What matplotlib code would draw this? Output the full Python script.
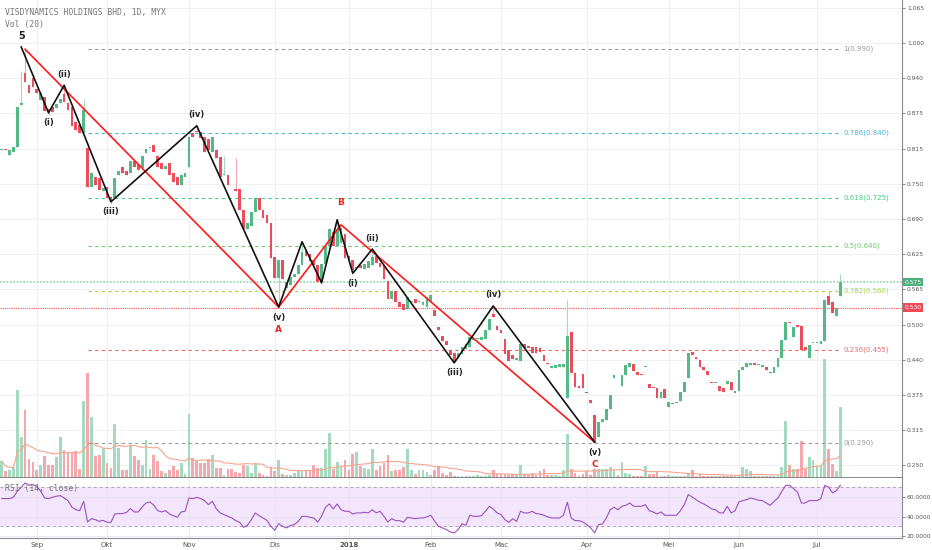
import numpy as np
import pandas as pd
import matplotlib
matplotlib.use('Agg')
import matplotlib.pyplot as plt
from matplotlib import transforms

title = 'VISDYNAMICS HOLDINGS BHD, 1D, MYX'

# daily candles
opens = [0.810, 0.812, 0.801, 0.806, 0.815, 0.890, 0.947, 0.925, 0.938, 0.918,
         0.899, 0.905, 0.882, 0.886, 0.884, 0.893, 0.910, 0.893, 0.886, 0.860,
         0.854, 0.840, 0.813, 0.745, 0.762, 0.760, 0.738, 0.744, 0.727, 0.725,
         0.765, 0.780, 0.772, 0.770, 0.790, 0.783, 0.778, 0.805, 0.813, 0.818,
         0.800, 0.787, 0.776, 0.787, 0.770, 0.762, 0.748, 0.762, 0.780, 0.840,
         0.843, 0.842, 0.833, 0.830, 0.806, 0.810, 0.798, 0.765, 0.766, 0.741,
         0.740, 0.740, 0.703, 0.670, 0.675, 0.700, 0.725, 0.703, 0.695, 0.680,
         0.620, 0.583, 0.615, 0.565, 0.570, 0.585, 0.590, 0.605, 0.630, 0.625,
         0.615, 0.606, 0.577, 0.607, 0.640, 0.665, 0.640, 0.645, 0.660, 0.622,
         0.615, 0.600, 0.606, 0.598, 0.600, 0.605, 0.622, 0.610, 0.605, 0.577,
         0.545, 0.560, 0.540, 0.537, 0.527, 0.540, 0.545, 0.540, 0.535, 0.532,
         0.540, 0.525, 0.495, 0.480, 0.470, 0.455, 0.450, 0.440, 0.448, 0.457,
         0.460, 0.472, 0.475, 0.472, 0.475, 0.490, 0.518, 0.497, 0.490, 0.475,
         0.455, 0.445, 0.437, 0.435, 0.465, 0.462, 0.460, 0.460, 0.458, 0.445,
         0.431, 0.423, 0.422, 0.425, 0.425, 0.370, 0.487, 0.414, 0.390, 0.412,
         0.379, 0.366, 0.340, 0.300, 0.327, 0.330, 0.350, 0.405, 0.391, 0.390,
         0.410, 0.425, 0.430, 0.416, 0.411, 0.424, 0.395, 0.388, 0.387, 0.370,
         0.385, 0.354, 0.358, 0.360, 0.365, 0.380, 0.405, 0.452, 0.443, 0.437,
         0.425, 0.418, 0.397, 0.396, 0.390, 0.388, 0.395, 0.398, 0.378, 0.382,
         0.420, 0.425, 0.428, 0.432, 0.428, 0.425, 0.425, 0.414, 0.414, 0.425,
         0.440, 0.472, 0.505, 0.478, 0.500, 0.498, 0.460, 0.440, 0.467, 0.468,
         0.465, 0.470, 0.550, 0.540, 0.515, 0.550]
closes = [0.812, 0.810, 0.810, 0.815, 0.886, 0.893, 0.931, 0.911, 0.922, 0.912,
          0.912, 0.880, 0.878, 0.877, 0.892, 0.900, 0.895, 0.881, 0.853, 0.846,
          0.840, 0.881, 0.744, 0.770, 0.748, 0.739, 0.742, 0.725, 0.722, 0.760,
          0.772, 0.769, 0.765, 0.790, 0.780, 0.775, 0.800, 0.812, 0.816, 0.806,
          0.780, 0.776, 0.782, 0.766, 0.753, 0.748, 0.765, 0.770, 0.833, 0.833,
          0.842, 0.831, 0.806, 0.810, 0.833, 0.796, 0.762, 0.766, 0.748, 0.740,
          0.737, 0.703, 0.670, 0.680, 0.700, 0.725, 0.703, 0.690, 0.680, 0.618,
          0.583, 0.615, 0.580, 0.575, 0.585, 0.590, 0.605, 0.628, 0.622, 0.612,
          0.605, 0.575, 0.607, 0.640, 0.670, 0.640, 0.670, 0.672, 0.618, 0.615,
          0.597, 0.601, 0.600, 0.607, 0.612, 0.620, 0.610, 0.603, 0.580, 0.545,
          0.560, 0.540, 0.532, 0.525, 0.548, 0.541, 0.538, 0.541, 0.540, 0.548,
          0.552, 0.515, 0.490, 0.470, 0.463, 0.445, 0.435, 0.450, 0.460, 0.465,
          0.478, 0.476, 0.476, 0.477, 0.490, 0.510, 0.514, 0.490, 0.485, 0.448,
          0.435, 0.438, 0.440, 0.465, 0.458, 0.458, 0.450, 0.450, 0.452, 0.435,
          0.430, 0.427, 0.428, 0.430, 0.430, 0.480, 0.414, 0.389, 0.388, 0.388,
          0.378, 0.360, 0.291, 0.327, 0.332, 0.350, 0.375, 0.410, 0.390, 0.410,
          0.428, 0.432, 0.418, 0.410, 0.410, 0.425, 0.388, 0.387, 0.370, 0.380,
          0.370, 0.362, 0.360, 0.362, 0.380, 0.398, 0.450, 0.445, 0.438, 0.425,
          0.420, 0.410, 0.396, 0.397, 0.382, 0.380, 0.400, 0.383, 0.382, 0.420,
          0.425, 0.432, 0.432, 0.428, 0.429, 0.428, 0.420, 0.415, 0.425, 0.440,
          0.472, 0.504, 0.502, 0.495, 0.495, 0.455, 0.455, 0.463, 0.468, 0.469,
          0.470, 0.543, 0.534, 0.521, 0.530, 0.575]
volumes = [17, 7, 8, 10, 88, 41, 68, 19, 16, 8, 13, 22, 13, 13, 21, 41, 28, 26, 26, 27,
           9, 77, 105, 61, 22, 23, 30, 15, 10, 54, 30, 8, 8, 32, 22, 18, 13, 38, 9, 23,
           17, 7, 5, 8, 12, 8, 15, 4, 64, 20, 17, 15, 15, 19, 23, 10, 10, 3, 9, 9,
           6, 5, 13, 12, 5, 15, 5, 3, 2, 11, 7, 18, 4, 3, 3, 5, 8, 8, 8, 8,
           13, 10, 10, 29, 45, 9, 16, 12, 18, 8, 24, 26, 12, 10, 9, 29, 8, 12, 15, 23,
           7, 8, 8, 11, 29, 8, 4, 8, 8, 6, 3, 8, 12, 5, 3, 6, 2, 2, 2, 2,
           2, 2, 3, 2, 2, 3, 8, 4, 4, 4, 3, 4, 4, 13, 3, 3, 5, 3, 7, 9,
           3, 3, 3, 2, 8, 44, 9, 5, 2, 4, 7, 3, 9, 9, 9, 9, 11, 9, 3, 16,
           5, 4, 2, 2, 2, 12, 4, 4, 7, 2, 2, 3, 2, 2, 2, 2, 5, 8, 2, 4,
           2, 2, 2, 2, 2, 2, 2, 2, 2, 2, 11, 9, 7, 2, 2, 2, 2, 2, 2, 2,
           11, 57, 13, 9, 9, 37, 9, 21, 18, 12, 13, 120, 29, 14, 7, 71]
rsi = [58.4, 58.4, 58.4, 59.7, 65.9, 70.0, 74.4, 72.0, 72.7, 71.0,
       66.0, 59.0, 58.4, 59.7, 60.8, 61.5, 59.0, 56.3, 49.5, 47.0,
       46.0, 55.6, 34.4, 37.8, 36.8, 35.1, 36.1, 34.1, 34.1, 42.6,
       43.0, 43.0, 44.3, 48.1, 44.7, 44.7, 49.8, 53.9, 55.0, 51.5,
       46.0, 44.7, 46.0, 42.6, 40.9, 39.2, 44.7, 45.4, 59.0, 58.4,
       59.7, 58.4, 56.3, 52.2, 55.6, 48.1, 43.7, 42.0, 40.2, 38.5,
       35.8, 34.1, 29.0, 31.0, 36.8, 43.7, 40.9, 38.5, 36.1, 30.0,
       25.9, 32.7, 30.0, 28.3, 30.7, 31.7, 35.0, 40.2, 40.2, 39.2,
       38.5, 34.4, 40.2, 49.5, 52.9, 47.8, 52.9, 47.0, 45.4, 45.4,
       42.6, 43.7, 43.7, 44.3, 43.7, 47.0, 43.7, 45.4, 40.2, 34.4,
       37.8, 35.8, 35.8, 34.1, 39.2, 38.5, 37.8, 38.5, 38.5, 39.6,
       41.3, 35.1, 30.0, 28.3, 26.6, 24.2, 23.2, 26.6, 32.7, 31.0,
       41.3, 40.2, 40.2, 40.9, 45.4, 50.5, 47.8, 43.7, 42.0, 36.8,
       34.1, 37.8, 35.1, 45.4, 43.7, 43.7, 45.4, 43.0, 42.6, 41.3,
       39.6, 38.5, 38.5, 38.5, 41.3, 54.6, 38.5, 35.8, 35.8, 34.4,
       31.7, 28.3, 23.2, 31.7, 32.4, 38.5, 47.0, 49.5, 47.0, 50.5,
       51.5, 53.9, 50.5, 50.5, 50.5, 52.2, 46.0, 44.7, 42.6, 44.7,
       41.3, 41.3, 41.3, 41.3, 46.0, 52.2, 62.5, 60.1, 57.3, 54.6,
       52.9, 50.5, 47.8, 47.0, 43.7, 43.7, 50.5, 43.7, 46.0, 55.0,
       56.3, 57.3, 59.0, 58.0, 56.7, 56.3, 53.9, 51.5, 55.6, 59.0,
       65.9, 72.0, 72.0, 68.6, 65.2, 53.9, 53.9, 56.3, 56.3, 56.3,
       58.4, 72.0, 70.0, 64.2, 66.6, 72.0]
wick_high = {5: 0.950, 6: 0.990, 16: 0.925, 21: 0.900, 50: 0.852, 57: 0.800,
             60: 0.795, 77: 0.645, 86: 0.682, 95: 0.636, 126: 0.532, 145: 0.543,
             212: 0.560, 215: 0.590}
wick_low = {12: 0.872, 28: 0.714, 71: 0.531, 90: 0.593, 116: 0.432, 152: 0.290}

month_idx = [9, 27, 48, 70, 89, 110, 128, 150, 171, 189, 209]
month_labels = ['Sep', 'Okt', 'Nov', 'Dis', '2018', 'Feb', 'Mac', 'Apr', 'Mei', 'Jun', 'Jul']

price_ticks = [0.25, 0.3125, 0.375, 0.4375, 0.5, 0.5625, 0.625, 0.6875, 0.75,
               0.8125, 0.875, 0.9375, 1.0, 1.0625]
price_labels = ['0.250', '0.315', '0.375', '0.440', '0.500', '0.565', '0.625',
                '0.690', '0.750', '0.815', '0.875', '0.940', '1.000', '1.065']

fib_ratio = ['1', '0.786', '0.618', '0.5', '0.382', '0.236', '0']
fib_price = [0.990, 0.840, 0.725, 0.640, 0.560, 0.455, 0.290]
fib_colors = ['#9a9a9a', '#4db6d6', '#4cc98a', '#6cc96c', '#a6d44a', '#f06868', '#9a9a9a']
fib_start, fib_end = 22, 215

# elliott wave pivots
black_idx = [5, 12, 16, 28, 50, 71, 77, 82, 86, 90, 95, 116, 126, 152]
black_px = [0.993, 0.876, 0.925, 0.718, 0.853, 0.531, 0.647, 0.574, 0.686,
            0.591, 0.634, 0.432, 0.533, 0.291]
black_lbl = ['5', '(i)', '(ii)', '(iii)', '(iv)', '(v)', '', '', '',
             '(i)', '(ii)', '(iii)', '(iv)', '(v)']
red_idx = [6, 71, 87, 152]
red_px = [0.989, 0.531, 0.677, 0.291]
red_lbl = ['', 'A', 'B', 'C']

last_price = 0.575
mark_price = 0.530

green, red = '#53b987', '#eb4d5c'
green_l, red_l = '#a6dabf', '#f5a7ae'

n = len(closes)
x = np.arange(n)
o = np.array(opens)
c = np.array(closes)
up = c >= o
hi = np.maximum(o, c)
lo = np.minimum(o, c)
for k, v in wick_high.items():
    hi[k] = v
for k, v in wick_low.items():
    lo[k] = v

fig = plt.figure(figsize=(9.32, 5.5), dpi=100)
ax = fig.add_axes([0, 72 / 550, 902 / 932, 478 / 550])
ax_rsi = fig.add_axes([0, 12 / 550, 902 / 932, 60 / 550])

xlim = (-0.44, 230.8)
ax.set_xlim(*xlim)
ax.set_ylim(0.2274, 1.0764)

# grid
ax.set_yticks(price_ticks)
ax.set_yticklabels(price_labels)
ax.set_xticks(month_idx)
ax.grid(color='#edf1f5', lw=0.8, zorder=0)
ax.set_axisbelow(True)

# volume, bottom of the price panel
vtr = transforms.blended_transform_factory(ax.transData, ax.transAxes)
vol = np.array(volumes, dtype=float)
vtop = vol.max() * 4.0
ax.bar(x, vol / vtop, width=0.7, bottom=0, color=np.where(up, green_l, red_l),
       transform=vtr, zorder=1)
vma = pd.Series(vol).rolling(20, min_periods=1).mean().values
ax.plot(x, vma / vtop, color='#f7a58c', lw=0.8, transform=vtr, zorder=1)

# fib levels
for r, p, col in zip(fib_ratio, fib_price, fib_colors):
    ax.plot([fib_start, fib_end], [p, p], color=col, lw=0.8, ls=(0, (3, 3)), zorder=2)
    ax.text(fib_end + 0.8, p, f'{r}({p:.3f})', color=col, fontsize=5, va='center', ha='left')

ax.axhline(last_price, color='#8fd3ac', lw=1.2, ls=(0, (1, 1)), zorder=2)
ax.axhline(mark_price, color='#ef5350', lw=0.8, ls=(0, (1, 1)), zorder=2)

# candles
ax.vlines(x, lo, hi, color=np.where(up, green_l, red_l), lw=0.8, zorder=3)
body = np.maximum(np.abs(c - o), 0.0015)
ax.bar(x, body, bottom=np.minimum(o, c), width=0.7,
       color=np.where(up, green, red), zorder=4)

# waves
ax.plot(red_idx, red_px, color='#ff1a1a', lw=1.2, zorder=5)
ax.plot(black_idx, black_px, color='#111111', lw=1.2, zorder=6)
for i, (xi, p, t) in enumerate(zip(black_idx, black_px, black_lbl)):
    if not t:
        continue
    peak = i == 0 or (i > 0 and p > black_px[i - 1])
    dy = 11 if peak else -10
    ax.annotate(t, (xi, p), xytext=(0, dy), textcoords='offset pixels', ha='center',
                va='center', fontsize=6 if t != '5' else 7, fontweight='bold',
                color='#222222', zorder=7)
for i, (xi, p, t) in enumerate(zip(red_idx, red_px, red_lbl)):
    if not t:
        continue
    peak = p > red_px[i - 1]
    dy = 22 if peak else -22
    ax.annotate(t, (xi, p), xytext=(-1 if peak else 0, dy), textcoords='offset pixels',
                ha='center', va='center', fontsize=6.5, fontweight='bold',
                color='#ee2222', zorder=7)

# price scale
ax.yaxis.tick_right()
ax.tick_params(axis='y', labelsize=4.3, colors='#555555', length=2, pad=1.5, width=0.5)
ax.tick_params(axis='x', bottom=False, labelbottom=False)
for s in ['top', 'left']:
    ax.spines[s].set_visible(False)
ax.spines['right'].set_color('#8a8a8a')
ax.spines['bottom'].set_color('#777777')
ax.spines['bottom'].set_linewidth(1.2)

ytr = transforms.blended_transform_factory(ax.transAxes, ax.transData)
ax.text(1.0025, last_price, f'{last_price:.3f}', transform=ytr, fontsize=4.3, color='white',
        va='center', ha='left', clip_on=False, zorder=10,
        bbox=dict(fc='#4caf7d', ec='none', pad=1.2))
ax.text(1.0025, mark_price, f'{mark_price:.3f}', transform=ytr, fontsize=4.3, color='white',
        va='center', ha='left', clip_on=False, zorder=10,
        bbox=dict(fc='#ef4a55', ec='none', pad=1.2))

fig.text(5 / 932, 1 - 12 / 550, title, family='DejaVu Sans Mono', fontsize=5.8,
         color='#777777', va='center')
fig.text(5 / 932, 1 - 24 / 550, 'Vol (20)', family='DejaVu Sans Mono', fontsize=5.8,
         color='#777777', va='center')

# RSI panel
ax_rsi.set_xlim(*xlim)
ax_rsi.set_ylim(18, 79.5)
ax_rsi.axhspan(30, 70, color='#f3e6fc', zorder=0)
ax_rsi.axhline(70, color='#aaaaaa', lw=0.7, ls=(0, (3, 3)))
ax_rsi.axhline(30, color='#aaaaaa', lw=0.7, ls=(0, (3, 3)))
ax_rsi.plot(x, rsi, color='#9c4fbf', lw=0.8, zorder=3)
ax_rsi.set_yticks([20, 40, 60])
ax_rsi.set_yticklabels(['20.0000', '40.0000', '60.0000'])
ax_rsi.set_xticks(month_idx)
ax_rsi.set_xticklabels(month_labels)
for lab in ax_rsi.get_xticklabels():
    if lab.get_text() == '2018':
        lab.set_fontweight('bold')
ax_rsi.grid(color='#e8e4ef', lw=0.6, zorder=1)
ax_rsi.set_axisbelow(True)
ax_rsi.yaxis.tick_right()
ax_rsi.tick_params(axis='y', labelsize=4.3, colors='#555555', length=2, pad=1.5, width=0.5)
ax_rsi.tick_params(axis='x', labelsize=5, colors='#555555', length=0, pad=3)
for s in ['top', 'left']:
    ax_rsi.spines[s].set_visible(False)
ax_rsi.spines['right'].set_color('#8a8a8a')
ax_rsi.spines['bottom'].set_color('#8a8a8a')
ax_rsi.text(5 / 902, 0.83, 'RSI (14, close)', transform=ax_rsi.transAxes,
            family='DejaVu Sans Mono', fontsize=5.8, color='#777777', va='center')

fig.savefig('out.png', dpi=100, facecolor='white')
